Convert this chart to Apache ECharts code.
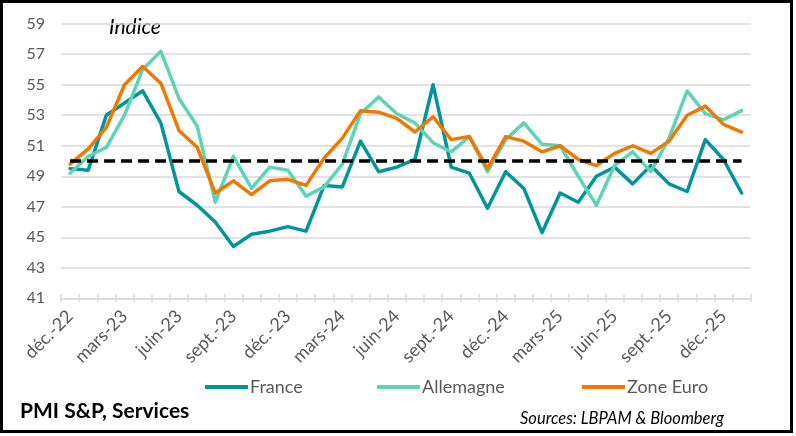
<!DOCTYPE html>
<html>
<head>
<meta charset="utf-8">
<script src="https://cdn.jsdelivr.net/npm/echarts@6/dist/echarts.min.js"></script>
<style>
html,body{margin:0;padding:0;background:#fff;}
#c{width:796px;height:436px;}
</style>
</head>
<body>
<div id="c"></div>
<script>
const categories = [
  'déc.-22','janv.-23','févr.-23','mars-23','avr.-23','mai-23','juin-23','juil.-23','août-23','sept.-23','oct.-23','nov.-23',
  'déc.-23','janv.-24','févr.-24','mars-24','avr.-24','mai-24','juin-24','juil.-24','août-24','sept.-24','oct.-24','nov.-24',
  'déc.-24','janv.-25','févr.-25','mars-25','avr.-25','mai-25','juin-25','juil.-25','août-25','sept.-25','oct.-25','nov.-25',
  'déc.-25','janv.-26'
];
const france = [49.5,49.4,53.0,53.8,54.6,52.5,48.0,47.1,46.0,44.4,45.2,45.4,45.7,45.4,48.4,48.3,51.3,49.3,49.6,50.1,55.0,49.6,49.2,46.9,49.3,48.2,45.3,47.9,47.3,49.0,49.6,48.5,49.7,48.5,48.0,51.4,50.1,47.9];
const allemagne = [49.2,50.3,50.9,53.0,56.0,57.2,54.1,52.3,47.3,50.3,48.2,49.6,49.4,47.7,48.3,49.8,53.1,54.2,53.1,52.5,51.2,50.6,51.6,49.3,51.4,52.5,51.1,51.0,49.0,47.1,49.7,50.6,49.3,51.5,54.6,53.1,52.7,53.3];
const zoneEuro = [49.8,50.8,52.2,55.0,56.2,55.1,52.0,50.9,47.9,48.7,47.8,48.7,48.8,48.4,50.2,51.5,53.3,53.2,52.8,51.9,52.9,51.4,51.6,49.5,51.6,51.3,50.6,51.0,50.1,49.7,50.5,51.0,50.5,51.3,53.0,53.6,52.4,51.9];
const threshold = categories.map(() => 50);
const yTicks = {min: 41, max: 59, interval: 2};

const FONT = 'Lato, "Open Sans", sans-serif';
const GRAY = '#595959';
const chart = echarts.init(document.getElementById('c'), null, {renderer: 'canvas'});

function lineSeries(name, data, color) {
  return {
    name, type: 'line', data, symbol: 'none', xAxisIndex: 0,
    lineStyle: {color, width: 3.5, cap: 'round', join: 'round'},
    itemStyle: {color}, z: 3, animation: false
  };
}
const legendCommon = {
  top: 373, icon: 'rect', itemWidth: 43, itemHeight: 4, itemGap: 4,
  textStyle: {fontFamily: FONT, fontSize: 18, color: GRAY, padding: [0, 0, 0, -3]},
  selectedMode: false
};

chart.setOption({
  animation: false,
  backgroundColor: '#ffffff',
  grid: {left: 61, right: 45.3, top: 23.7, bottom: 137.7, containLabel: false},
  xAxis: [{
    type: 'category', data: categories, boundaryGap: true,
    axisLine: {show: true, lineStyle: {color: '#d9d9d9', width: 1.5}},
    axisTick: {show: true, interval: 0, length: 4, lineStyle: {color: '#d9d9d9', width: 1.5}},
    axisLabel: {interval: 2, rotate: 45, margin: 15, fontFamily: FONT, fontSize: 18, color: GRAY},
    splitLine: {show: false}
  }, {
    type: 'category', data: categories, boundaryGap: true, position: 'bottom',
    axisLine: {show: false},
    axisTick: {show: true, inside: true, interval: 0, length: 4, lineStyle: {color: '#d9d9d9', width: 1.5}},
    axisLabel: {show: false}, splitLine: {show: false}
  }],
  yAxis: {
    type: 'value', min: yTicks.min, max: yTicks.max, interval: yTicks.interval,
    axisLine: {show: false}, axisTick: {show: false},
    axisLabel: {margin: 16, fontFamily: FONT, fontSize: 16, color: GRAY},
    splitLine: {show: true, lineStyle: {color: '#d9d9d9', width: 1.5}}
  },
  legend: [
    Object.assign({}, legendCommon, {left: 200, data: ['France']}),
    Object.assign({}, legendCommon, {left: 372, data: ['Allemagne']}),
    Object.assign({}, legendCommon, {left: 577, data: ['Zone Euro']})
  ],
  series: [
    lineSeries('France', france, '#00959a'),
    lineSeries('Allemagne', allemagne, '#5dd4b7'),
    lineSeries('Zone Euro', zoneEuro, '#f07800'),
    {
      name: 'Seuil', type: 'line', data: threshold, symbol: 'none', z: 4,
      lineStyle: {color: '#000000', width: 3.5, type: [11, 6]}, silent: true
    }
  ],
  graphic: [
    {type: 'text', left: 109, top: 17, style: {text: 'Indice', fontFamily: FONT, fontSize: 21, fontStyle: 'italic', fill: '#000'}},
    {type: 'text', left: 20, top: 401, style: {text: 'PMI S&P, Services', fontFamily: FONT, fontSize: 21, fontWeight: 'bold', fill: '#000'}},
    {type: 'text', left: 520, top: 410, style: {text: 'Sources: LBPAM & Bloomberg', fontFamily: FONT, fontSize: 16.5, fontStyle: 'italic', fill: '#000'}},
    {type: 'rect', shape: {x: 1.5, y: 1.5, width: 790, height: 430}, style: {fill: 'none', stroke: '#000', lineWidth: 3}, silent: true, z: 100}
  ]
});
</script>
</body>
</html>
